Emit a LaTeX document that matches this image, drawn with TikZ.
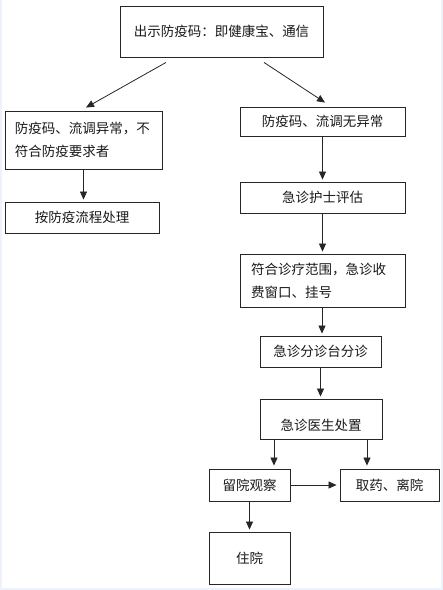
\documentclass[tikz,border=0pt]{standalone}
\usepackage{fontspec}
\newfontfamily\cjk{Noto Sans CJK SC}
\usetikzlibrary{arrows.meta}
\definecolor{edgeblue}{HTML}{EEF3FB}
\begin{document}
\begin{tikzpicture}[x=1pt,y=-1pt,
  box/.style={draw=black!85,line width=0.9pt,inner sep=0pt,font=\cjk\fontsize{13.5}{23}\selectfont,text=black!90},
  arr/.style={draw=black!85,line width=0.8pt,-{Triangle[length=8pt,width=7pt]},shorten >=2pt}]
\fill[edgeblue] (0,0) rectangle (443,590);
\fill[white] (2,0) rectangle (441,588);
\useasboundingbox (0,0) rectangle (443,590);
\node[box,minimum width=203pt,minimum height=51pt] (top) at (221.5,31.5) {出示防疫码：即健康宝、通信};
\node[box,minimum width=157pt,minimum height=58pt,text width=137pt,align=left] (L1) at (83.5,140) {防疫码、流调异常，不\\符合防疫要求者};
\node[box,minimum width=154pt,minimum height=31pt] (L2) at (82,217.5) {按防疫流程处理};
\node[box,minimum width=165pt,minimum height=29pt] (R1) at (322.5,121.5) {防疫码、流调无异常};
\node[box,minimum width=165pt,minimum height=31pt] (R2) at (322.5,197.5) {急诊护士评估};
\node[box,minimum width=165pt,minimum height=53pt,text width=143pt,align=left] (R3) at (322.5,280.5) {符合诊疗范围，急诊收\\费窗口、挂号};
\node[box,minimum width=121pt,minimum height=31pt] (R4) at (320.5,351.5) {急诊分诊台分诊};
\node[box,minimum width=122pt,minimum height=40pt,text height=25pt,text depth=2pt] (R5) at (321,419) {急诊医生处置};
\node[box,minimum width=81pt,minimum height=32pt] (B6) at (249.5,485) {留院观察};
\node[box,minimum width=99pt,minimum height=32pt] (B7) at (389.5,485) {取药、离院};
\node[box,minimum width=81pt,minimum height=52pt] (B8) at (249.5,558) {住院};
\draw[arr,shorten >=0pt] ([xshift=-55.5pt,yshift=-5pt]top.south) -- ([xshift=2.5pt,yshift=3pt]L1.north);
\draw[arr,shorten >=0pt] ([xshift=42.5pt,yshift=-5pt]top.south) -- ([xshift=2.5pt,yshift=4pt]R1.north);
\draw[arr] (L1.south) -- (L1.south |- L2.north);
\draw[arr] (R1.south) -- (R2.north);
\draw[arr] (R2.south) -- (R3.north);
\draw[arr] ([xshift=-0.5pt]R3.south) -- ([xshift=-0.5pt]R3.south |- R4.north);
\draw[arr] (R4.south) -- (R4.south |- R5.north);
\draw[arr,shorten >=3pt] ([xshift=-47pt]R5.south) -- ([xshift=-47pt]R5.south |- B6.north);
\draw[arr,shorten >=3pt] ([xshift=46pt]R5.south) -- ([xshift=46pt]R5.south |- B7.north);
\draw[arr,shorten >=3pt] (B6.east) -- (B7.west);
\draw[arr] (B6.south) -- (B8.north);
\end{tikzpicture}
\end{document}
